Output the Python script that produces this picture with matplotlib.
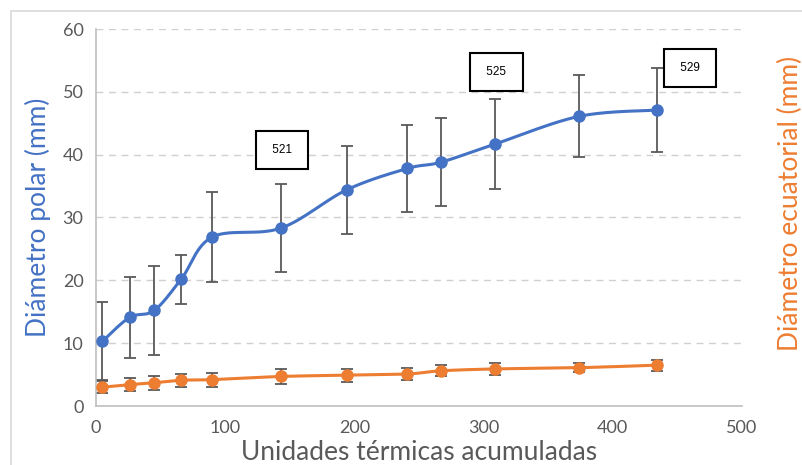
import numpy as np
import matplotlib.pyplot as plt
from matplotlib.patches import Rectangle

# data
x_polar = [5, 26, 45, 66, 90, 143, 194, 241, 267, 309, 374, 434]
polar = [10.3, 14.1, 15.2, 20.2, 26.9, 28.3, 34.4, 37.8, 38.8, 41.7, 46.1, 47.1]
polar_err = [6.2, 6.5, 7.1, 3.9, 7.1, 7.0, 7.0, 7.0, 7.0, 7.1, 6.5, 6.7]

x_ecuat = [5, 26, 45, 66, 90, 143, 194, 241, 267, 309, 374, 434]
ecuat = [3.0, 3.4, 3.7, 4.1, 4.2, 4.7, 4.9, 5.1, 5.6, 5.9, 6.1, 6.5]
ecuat_err = [1.0, 1.05, 1.1, 1.05, 1.1, 1.15, 1.05, 0.9, 0.9, 0.9, 0.75, 0.9]

labels = ["521", "525", "529"]
label_x = [144, 310, 460]
label_y = [40.7, 53.2, 53.8]


def smooth(x, y, n=30):
    # Excel-like smoothed line (Catmull-Rom as cubic Bezier)
    p = np.column_stack([x, y]).astype(float)
    out = []
    for i in range(len(p) - 1):
        p0 = p[max(i - 1, 0)]
        p1 = p[i]
        p2 = p[i + 1]
        p3 = p[min(i + 2, len(p) - 1)]
        c1 = p1 + (p2 - p0) / 6
        c2 = p2 - (p3 - p1) / 6
        t = np.linspace(0, 1, n)[:, None]
        seg = ((1 - t) ** 3) * p1 + 3 * ((1 - t) ** 2) * t * c1 + 3 * (1 - t) * t ** 2 * c2 + t ** 3 * p2
        out.append(seg)
    s = np.vstack(out)
    return s[:, 0], s[:, 1]


plt.rcParams['font.family'] = ['Lato', 'DejaVu Sans']

blue = '#4472C4'
orange = '#ED7D31'
grey = '#595959'

fig = plt.figure(figsize=(8.02, 4.65), dpi=100)
fig.patches.append(Rectangle((11 / 802, -0.1), 1.2, 1 - 11 / 465 + 0.1,
                             transform=fig.transFigure, fill=False,
                             edgecolor='#D9D9D9', lw=1.2))
ax = fig.add_axes([96 / 802, 1 - 406 / 465, 646 / 802, 377 / 465])

ax.errorbar(x_polar, polar, yerr=polar_err, fmt='none', ecolor=grey,
            elinewidth=1.3, capsize=4, capthick=1.3, zorder=2)
ax.errorbar(x_ecuat, ecuat, yerr=ecuat_err, fmt='none', ecolor=grey,
            elinewidth=1.3, capsize=4, capthick=1.3, zorder=2)

sx, sy = smooth(x_polar, polar)
ax.plot(sx, sy, color=blue, lw=2.2, zorder=3)
ax.plot(x_polar, polar, 'o', color=blue, ms=8, zorder=4)
sx, sy = smooth(x_ecuat, ecuat)
ax.plot(sx, sy, color=orange, lw=2.2, zorder=3)
ax.plot(x_ecuat, ecuat, 'o', color=orange, ms=8, zorder=4)

for t, lx, ly in zip(labels, label_x, label_y):
    ax.text(lx, ly, " " + t + " ", ha='center', va='center', fontsize=8.5,
            family='Liberation Sans', zorder=5,
            bbox=dict(boxstyle='square,pad=1.1', fc='white', ec='black', lw=1.5))

ax.set_xlim(0, 500)
ax.set_ylim(0, 60)
ax.set_xticks(range(0, 501, 100))
ax.set_yticks(range(0, 61, 10))
ax.grid(axis='y', color='#D0D0D0', ls=(0, (5, 4)), lw=1)
ax.set_axisbelow(True)
for side in ['top', 'right']:
    ax.spines[side].set_visible(False)
for side in ['left', 'bottom']:
    ax.spines[side].set_color('#BFBFBF')
    ax.spines[side].set_linewidth(1.2)
ax.tick_params(length=0, labelsize=13, labelcolor=grey)
ax.tick_params(axis='x', pad=10)
ax.tick_params(axis='y', pad=9)

fig.text(419 / 802, 1 - 452 / 465, "Unidades térmicas acumuladas", fontsize=19,
         color=grey, ha='center', va='center')
fig.text(38 / 802, 1 - 217 / 465, "Diámetro polar (mm)", fontsize=19,
         color=blue, ha='center', va='center', rotation=90)
fig.text(790 / 802, 1 - 203 / 465, "Diámetro ecuatorial (mm)", fontsize=19,
         color=orange, ha='center', va='center', rotation=90)

fig.savefig("out.png", dpi=100)
